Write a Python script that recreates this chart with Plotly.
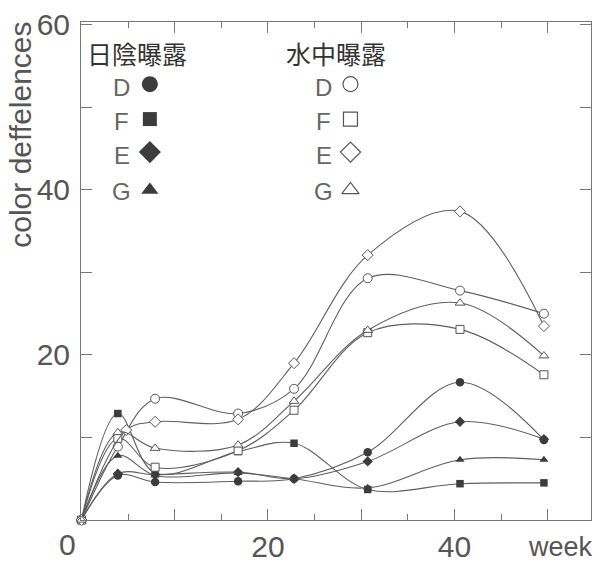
import plotly.graph_objects as go

# ---------------- data ----------------
weeks = [0, 3.9, 7.9, 16.8, 22.8, 30.7, 40.6, 49.6]
weeks_water_E = [0, 4.8, 7.9, 16.8, 22.8, 30.7, 40.6, 49.6]

# 日陰曝露 (filled markers)
shade_D = [0, 5.4, 4.6, 4.7, 5.0, 8.2, 16.7, 9.7]
shade_F = [0, 12.9, 5.7, 8.3, 9.3, 3.7, 4.4, 4.5]
shade_E = [0, 5.6, 5.5, 5.8, 5.0, 7.1, 11.9, 9.8]
shade_G = [0, 7.8, 5.4, 5.7, 5.0, 3.9, 7.3, 7.3]

# 水中曝露 (open markers)
water_D = [0, 8.9, 14.7, 12.9, 15.9, 29.3, 27.8, 25.0]
water_F = [0, 9.9, 6.4, 8.4, 13.3, 22.7, 23.1, 17.6]
water_E = [0, 10.9, 11.9, 12.2, 19.0, 32.1, 37.4, 23.5]
water_G = [0, 10.6, 8.7, 9.1, 14.4, 23.0, 26.3, 19.9]

x_tick_vals = [10, 20, 30, 40, 50]
x_tick_text = ["", "20", "", "40", ""]
x_minor_vals = [5, 15, 25, 35, 45]
y_tick_vals = [10, 20, 30, 40, 50, 60]
y_tick_text = ["", "20", "", "40", "", "60"]

legend_letters = ["D", "F", "E", "G"]
shade_title = "日陰曝露"
water_title = "水中曝露"

# ---------------- styling ----------------
W, H = 600, 571
L, R, T, B = 81, 8, 19, 39
PW, PH = W - L - R, H - T - B
LINE = "#5e5e5e"
FILL = "#3c3c3c"
TXT = "#555555"
NUM_FONT = "Liberation Sans, Arial, sans-serif"
CJK_FONT = "Noto Sans CJK JP, Noto Sans CJK SC, sans-serif"


def px(x):
    return (x - L) / PW


def py(y):
    return (H - B - y) / PH


fig = go.Figure()

filled = [
    (shade_D, "circle", 8.5),
    (shade_F, "square", 7.5),
    (shade_E, "diamond", 8),
    (shade_G, "triangle-up", 8),
]
for ys, sym, sz in filled:
    fig.add_trace(go.Scatter(
        x=weeks, y=ys, mode="lines+markers",
        line=dict(color=LINE, width=1.1, shape="spline", smoothing=1.0),
        marker=dict(symbol=sym, size=sz, color=FILL, line=dict(width=0)),
        showlegend=False, cliponaxis=False))

opened = [
    (weeks, water_D, "circle", 9),
    (weeks, water_F, "square", 8),
    (weeks_water_E, water_E, "diamond", 8.5),
    (weeks, water_G, "triangle-up", 8.5),
]
for xs, ys, sym, sz in opened:
    fig.add_trace(go.Scatter(
        x=xs, y=ys, mode="lines+markers",
        line=dict(color=LINE, width=1.1, shape="spline", smoothing=1.0),
        marker=dict(symbol=sym, size=sz, color="white", line=dict(color="#555", width=1)),
        showlegend=False, cliponaxis=False))

# ---------------- legend drawn on a pixel-unit overlay axis ----------------
leg_rows = [83, 119, 153, 192]
shade_syms = [("circle", 16), ("square", 14), ("diamond", 17), ("triangle-up", 15)]
water_syms = [("circle-open", 15), ("square-open", 14), ("diamond-open", 15.5), ("triangle-up-open", 15)]
for (sym, sz), yy in zip(shade_syms, leg_rows):
    fig.add_trace(go.Scatter(x=[150], y=[yy], xaxis="x2", yaxis="y2", mode="markers",
                             marker=dict(symbol=sym, size=sz, color=FILL, line=dict(width=0)),
                             showlegend=False, hoverinfo="skip"))
for (sym, sz), yy in zip(water_syms, leg_rows):
    fig.add_trace(go.Scatter(x=[351], y=[yy], xaxis="x2", yaxis="y2", mode="markers",
                             marker=dict(symbol=sym, size=sz, color="#555", line=dict(width=1.2)),
                             showlegend=False, hoverinfo="skip"))

ann = []
ann.append(dict(text=shade_title, x=px(137), y=py(51), font=dict(family=CJK_FONT, size=25, color="#333")))
ann.append(dict(text=water_title, x=px(337), y=py(51), font=dict(family=CJK_FONT, size=25, color="#333")))
letter_rows = [86, 121, 157, 194]
for letter, yy in zip(legend_letters, letter_rows):
    ann.append(dict(text=letter, x=px(122), y=py(yy), font=dict(family=NUM_FONT, size=24, color="#666")))
    ann.append(dict(text=letter, x=px(324), y=py(yy), font=dict(family=NUM_FONT, size=24, color="#666")))
ann.append(dict(text="0", x=px(67), y=py(557), font=dict(family=NUM_FONT, size=30, color=TXT)))
ann.append(dict(text="week", x=px(596), y=py(560), xanchor="right", font=dict(family=NUM_FONT, size=27, color=TXT)))
ann.append(dict(text="color deffelences", x=px(20), y=py(135), textangle=-90,
                font=dict(family=NUM_FONT, size=30, color=TXT)))
for a in ann:
    a.setdefault("xanchor", "center")
    a.update(xref="paper", yref="paper", yanchor="middle", showarrow=False)

axis_common = dict(showline=True, linecolor="#777", linewidth=1, mirror="allticks",
                   ticks="inside", tickcolor="#777", tickwidth=1, ticklen=11,
                   showgrid=False, zeroline=False,
                   tickfont=dict(family=NUM_FONT, size=30, color=TXT))

fig.update_layout(
    width=W, height=H, margin=dict(l=L, r=R, t=T, b=B),
    paper_bgcolor="white", plot_bgcolor="white",
    xaxis=dict(range=[-0.05, 54.65], tickmode="array", tickvals=x_tick_vals, ticktext=x_tick_text,
               minor=dict(tickmode="array", tickvals=x_minor_vals, ticks="inside", ticklen=6,
                          tickcolor="#777", showgrid=False),
               ticklabelstandoff=0, **axis_common),
    yaxis=dict(range=[0, 60.35], tickmode="array", tickvals=y_tick_vals, ticktext=y_tick_text,
               ticklabelstandoff=4, **axis_common),
    xaxis2=dict(overlaying="x", range=[L, W - R], visible=False),
    yaxis2=dict(overlaying="y", range=[H - B, T], visible=False),
    annotations=ann,
)

fig.write_html("out.html")
